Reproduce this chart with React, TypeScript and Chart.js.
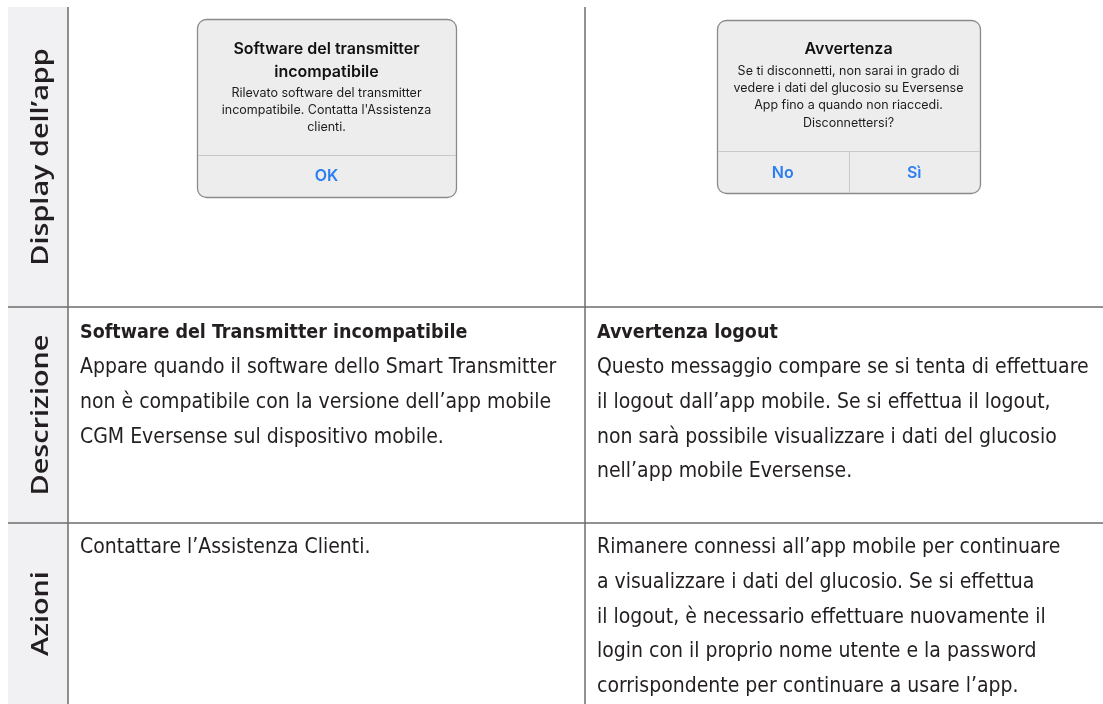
import React, { useEffect, useRef } from "react";
import { Chart, registerables } from "chart.js";

Chart.register(...registerables);

// ---- Content ----
const rowLabels = ["Display dell’app", "Descrizione", "Azioni"];

const dialog1Title = ["Software del transmitter", "incompatibile"];
const dialog1Body = [
  "Rilevato software del transmitter",
  "incompatibile. Contatta l'Assistenza",
  "clienti.",
];
const dialog1Buttons = ["OK"];

const dialog2Title = ["Avvertenza"];
const dialog2Body = [
  "Se ti disconnetti, non sarai in grado di",
  "vedere i dati del glucosio su Eversense",
  "App fino a quando non riaccedi.",
  "Disconnettersi?",
];
const dialog2Buttons = ["No", "Sì"];

const descTitles = ["Software del Transmitter incompatibile", "Avvertenza logout"];
const descBody1 = [
  "Appare quando il software dello Smart Transmitter",
  "non è compatibile con la versione dell’app mobile",
  "CGM Eversense sul dispositivo mobile.",
];
const descBody2 = [
  "Questo messaggio compare se si tenta di effettuare",
  "il logout dall’app mobile. Se si effettua il logout,",
  "non sarà possibile visualizzare i dati del glucosio",
  "nell’app mobile Eversense.",
];
const actions1 = ["Contattare l’Assistenza Clienti."];
const actions2 = [
  "Rimanere connessi all’app mobile per continuare",
  "a visualizzare i dati del glucosio. Se si effettua",
  "il logout, è necessario effettuare nuovamente il",
  "login con il proprio nome utente e la password",
  "corrispondente per continuare a usare l’app.",
];

// ---- Style ----
const LINE = "#6e6e6e";
const TEXT = "#231f20";
const LABEL_BG = "#f1f1f3";
const BLUE = "#2d7ff0";
const BODY_FONT = '"DejaVu Sans Condensed", "Liberation Sans Narrow", Roboto, sans-serif';
const DLG_FONT = 'Inter, "Noto Sans", sans-serif';
const LABEL_FONT = '"Open Sans", "Noto Sans", sans-serif';

type Dlg = {
  x: number; y: number; w: number; h: number; sepY: number;
  title: string[]; titleY: number; titleStep: number;
  body: string[]; bodyY: number; bodyStep: number;
  buttons: string[]; btnY: number;
};

function drawDialog(ctx: CanvasRenderingContext2D, d: Dlg) {
  ctx.save();
  ctx.beginPath();
  ctx.roundRect(d.x + 0.5, d.y + 0.5, d.w, d.h, 9);
  ctx.fillStyle = "#ededee";
  ctx.fill();
  ctx.lineWidth = 1.3;
  ctx.strokeStyle = "#8a8a8a";
  ctx.stroke();
  // separator
  ctx.beginPath();
  ctx.moveTo(d.x + 1, d.sepY + 0.5);
  ctx.lineTo(d.x + d.w, d.sepY + 0.5);
  ctx.strokeStyle = "#c9c9cb";
  ctx.lineWidth = 1;
  ctx.stroke();
  const cx = d.x + d.w / 2;
  ctx.textAlign = "center";
  ctx.textBaseline = "middle";
  ctx.fillStyle = "#111";
  ctx.font = `600 16px ${DLG_FONT}`;
  d.title.forEach((t, i) => ctx.fillText(t, cx, d.titleY + i * d.titleStep));
  ctx.font = `400 12.5px ${DLG_FONT}`;
  ctx.fillStyle = "#1c1c1c";
  d.body.forEach((t, i) => ctx.fillText(t, cx, d.bodyY + i * d.bodyStep));
  ctx.font = `600 16px ${DLG_FONT}`;
  ctx.fillStyle = BLUE;
  const n = d.buttons.length;
  d.buttons.forEach((b, i) => {
    const bx = d.x + (d.w / n) * (i + 0.5);
    ctx.fillText(b, bx, d.btnY);
  });
  if (n > 1) {
    ctx.beginPath();
    for (let i = 1; i < n; i++) {
      const vx = Math.round(d.x + (d.w / n) * i) + 0.5;
      ctx.moveTo(vx, d.sepY);
      ctx.lineTo(vx, d.y + d.h);
    }
    ctx.strokeStyle = "#c9c9cb";
    ctx.stroke();
  }
  ctx.restore();
}

function drawLines(ctx: CanvasRenderingContext2D, lines: string[], x: number, y0: number, step: number, font: string) {
  ctx.font = font;
  ctx.textAlign = "left";
  ctx.textBaseline = "middle";
  ctx.fillStyle = TEXT;
  lines.forEach((t, i) => ctx.fillText(t, x, y0 + i * step));
}

const tablePlugin = {
  id: "tablePlugin",
  afterDraw(chart: any) {
    const ctx: CanvasRenderingContext2D = chart.ctx;
    const W = chart.width;
    const H = chart.height;
    const left = 8, top = 7, labelR = 68, colDiv = 585;
    const rowY = [top, 307, 523, H];

    ctx.save();
    ctx.fillStyle = "#ffffff";
    ctx.fillRect(0, 0, W, H);
    ctx.fillStyle = LABEL_BG;
    ctx.fillRect(left, top, labelR - left, H - top);

    // grid lines
    ctx.strokeStyle = LINE;
    ctx.lineWidth = 1.5;
    ctx.beginPath();
    ctx.moveTo(labelR, top);
    ctx.lineTo(labelR, H);
    ctx.moveTo(colDiv, top);
    ctx.lineTo(colDiv, H);
    ctx.moveTo(left, rowY[1]);
    ctx.lineTo(W, rowY[1]);
    ctx.moveTo(left, rowY[2]);
    ctx.lineTo(W, rowY[2]);
    ctx.stroke();

    // rotated row labels (wide geometric look: stretch along the text direction)
    ctx.fillStyle = TEXT;
    ctx.font = `600 24px ${LABEL_FONT}`;
    ctx.textAlign = "center";
    ctx.textBaseline = "alphabetic";
    rowLabels.forEach((lab, i) => {
      const cy = (rowY[i] + rowY[i + 1]) / 2;
      ctx.save();
      ctx.translate(47.5, cy);
      ctx.rotate(-Math.PI / 2);
      ctx.scale(1.2, 1);
      ctx.fillText(lab, 0, 0);
      ctx.restore();
    });

    // dialogs
    drawDialog(ctx, {
      x: 197, y: 19, w: 259, h: 178, sepY: 155,
      title: dialog1Title, titleY: 49, titleStep: 23,
      body: dialog1Body, bodyY: 93, bodyStep: 17,
      buttons: dialog1Buttons, btnY: 176,
    });
    drawDialog(ctx, {
      x: 717, y: 20, w: 263, h: 173, sepY: 151,
      title: dialog2Title, titleY: 49, titleStep: 23,
      body: dialog2Body, bodyY: 71, bodyStep: 17.3,
      buttons: dialog2Buttons, btnY: 173,
    });

    const bodyFont = `400 21px ${BODY_FONT}`;
    const boldFont = `700 19.5px ${BODY_FONT}`;
    const step = 34.6;
    drawLines(ctx, [descTitles[0]], 80, 333, step, boldFont);
    drawLines(ctx, descBody1, 80, 368, step, bodyFont);
    drawLines(ctx, [descTitles[1]], 597, 333, step, boldFont);
    drawLines(ctx, descBody2, 597, 368, step, bodyFont);
    drawLines(ctx, actions1, 80, 548, step, bodyFont);
    drawLines(ctx, actions2, 597, 548, step, bodyFont);
    ctx.restore();
  },
};

export default function App() {
  const ref = useRef<HTMLCanvasElement | null>(null);
  useEffect(() => {
    if (!ref.current) return;
    const chart = new Chart(ref.current, {
      type: "scatter",
      data: { datasets: [{ data: [] }] },
      options: {
        animation: false,
        responsive: false,
        devicePixelRatio: 1,
        events: [],
        layout: { padding: 0 },
        plugins: { legend: { display: false }, tooltip: { enabled: false } },
        scales: { x: { display: false }, y: { display: false } },
      },
      plugins: [tablePlugin],
    });
    return () => chart.destroy();
  }, []);
  return (
    <div style={{ position: "fixed", left: 0, top: 0, width: 1103, height: 704, background: "#fff" }}>
      <canvas ref={ref} width={1103} height={704} style={{ display: "block" }} />
    </div>
  );
}
